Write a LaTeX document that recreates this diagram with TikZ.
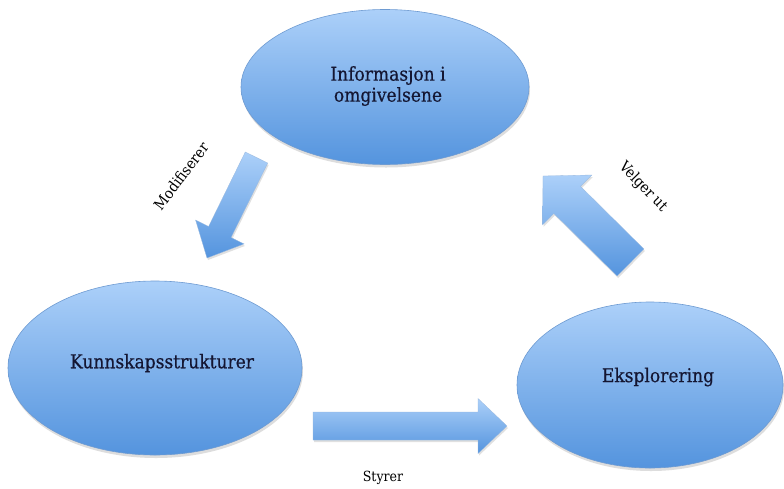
\documentclass[tikz,border=0pt]{standalone}
\usepackage{fontspec}
\setmainfont{DejaVu Serif Condensed}
\newfontface\bubblefont{DejaVu Serif Condensed}[FakeBold=0.5]
\usetikzlibrary{shapes.geometric,calc,shadows}
\definecolor{elltop}{RGB}{172,208,249}
\definecolor{ellbot}{RGB}{84,148,222}
\definecolor{elledge}{RGB}{110,155,210}
\definecolor{txtnavy}{RGB}{20,22,50}
\tikzset{
  bubble/.style={ellipse, inner sep=0pt, top color=elltop, bottom color=ellbot,
    draw=elledge, line width=0.6pt,
    drop shadow={shadow xshift=1pt, shadow yshift=-3pt, opacity=0.22, fill=black!60}},
  bubbletext/.style={text=txtnavy, font=\bubblefont\fontsize{19}{21}\selectfont, align=center},
  blockarrowstyle/.style={top color=elltop, bottom color=ellbot, draw=elledge!70, line width=0.3pt,
    drop shadow={shadow xshift=1pt, shadow yshift=-2pt, opacity=0.2, fill=black!60}},
  arrowlabel/.style={text=black, font=\fontsize{14}{16}\selectfont, inner sep=0pt},
  rotlabel/.style={arrowlabel, font=\fontsize{15}{17}\selectfont}
}
% #1 prefix, #2 tail, #3 tip, #4 half shaft, #5 half head, #6 head length
\newcommand\blockarrow[6]{%
  \coordinate (#1H) at ($(#3)!#6!(#2)$);
  \path[blockarrowstyle] ($(#2)!#4!90:(#3)$) -- ($(#1H)!#4!90:(#3)$) -- ($(#1H)!#5!90:(#3)$)
     -- (#3) -- ($(#1H)!#5!-90:(#3)$) -- ($(#1H)!#4!-90:(#3)$) -- ($(#2)!#4!-90:(#3)$) -- cycle;
}
\begin{document}
\begin{tikzpicture}[x=1pt,y=-1pt]
\useasboundingbox[fill=white] (0,0) rectangle (784,488);
% ellipses
\node[bubble, minimum width=288pt, minimum height=155pt] (info) at (385,87) {};
\node[bubble, minimum width=294pt, minimum height=174pt] (kunn) at (155,368) {};
\node[bubble, minimum width=266pt, minimum height=166pt] (eks) at (650,385) {};
\node[bubbletext] (infotxt) at ($(info)+(3,-1)$) {Informasjon i\\omgivelsene};
\node[bubbletext] (kunntxt) at ($(kunn)+(7,-5)$) {Kunnskapsstrukturer};
\node[bubbletext] (ekstxt) at ($(eks)+(8,-8)$) {Eksplorering};
% arrow end points
\coordinate (modT) at (256.5,157.5);
\coordinate (modP) at (207,258);
\coordinate (velT) at (630.5,262.5);
\coordinate (velP) at (543,176);
\coordinate (styT) at (313,426);
\coordinate (styP) at (507,426);
\blockarrow{mod}{modT}{modP}{12.5pt}{27pt}{29pt}
\blockarrow{vel}{velT}{velP}{19pt}{35pt}{34pt}
\blockarrow{sty}{styT}{styP}{14pt}{27.5pt}{29pt}
% labels
\node[rotlabel, rotate=53] (modlab) at (181,176) {Modifiserer};
\node[rotlabel, rotate=-46] (vellab) at (643,187) {Velger ut};
\node[arrowlabel] (stylab) at (383,478) {Styrer};
\end{tikzpicture}
\end{document}
